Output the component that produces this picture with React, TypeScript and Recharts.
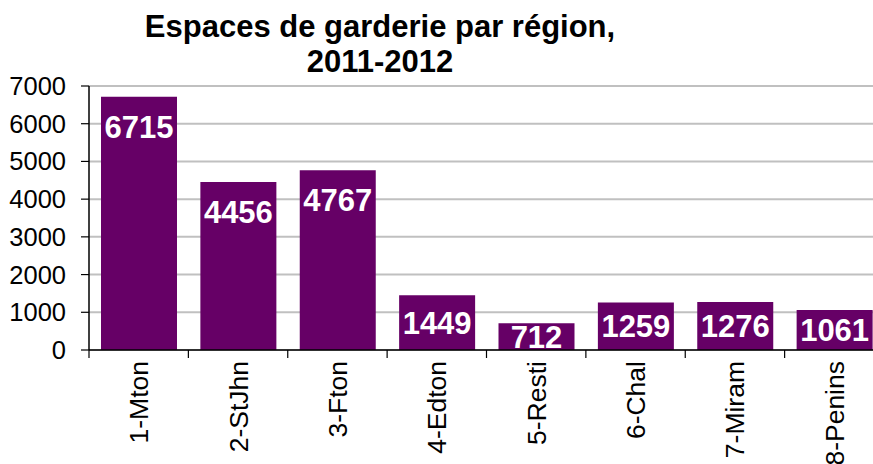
import React from "react";
import { BarChart, Bar, XAxis, YAxis, CartesianGrid } from "recharts";

const regions = ["1-Mton", "2-StJhn", "3-Fton", "4-Edton", "5-Resti", "6-Chal", "7-Miram", "8-Penins"];
const espaces = [6715, 4456, 4767, 1449, 712, 1259, 1276, 1061];
const yTicks = [0, 1000, 2000, 3000, 4000, 5000, 6000, 7000];

const data = regions.map((r, i) => ({ region: r, espaces: espaces[i] }));

const FONT = "Arial, 'Liberation Sans', sans-serif";
const CHART_W = 884;
const LEFT = 89;
const BAND = (CHART_W - LEFT) / regions.length;

function RegionTick(props: any) {
  const { x, y, payload } = props;
  const left = x - BAND / 2;
  return (
    <g>
      <line x1={left} y1={y - 8} x2={left} y2={y} stroke="#000" strokeWidth={1.2} />
      <text
        transform={`translate(${x},${y + 3}) rotate(-90)`}
        textAnchor="end"
        dy="0.36em"
        fontSize={26.5}
        fontFamily={FONT}
        fill="#000"
      >
        {payload.value}
      </text>
    </g>
  );
}

function ValueLabel(props: any) {
  const { x, y, width, height, value } = props;
  const off = Math.min(30, height / 2);
  return (
    <text
      x={x + width / 2}
      y={y + off}
      dy="0.36em"
      textAnchor="middle"
      fontSize={31}
      fontWeight="bold"
      fontFamily={FONT}
      fill="#fff"
    >
      {value}
    </text>
  );
}

export default function App() {
  return (
    <div
      style={{
        position: "absolute",
        left: 0,
        top: 0,
        width: 873,
        height: 464,
        overflow: "hidden",
        background: "#fff",
        fontFamily: FONT,
      }}
    >
      <div
        style={{
          position: "absolute",
          left: 130,
          width: 500,
          top: 9,
          textAlign: "center",
          fontSize: 31,
          fontWeight: "bold",
          lineHeight: "35px",
          color: "#000",
          whiteSpace: "nowrap",
        }}
      >
        Espaces de garderie par région,
        <br />
        2011-2012
      </div>
      <BarChart
        width={CHART_W}
        height={464}
        data={data}
        margin={{ top: 86, right: 0, bottom: 0, left: 0 }}
      >
        <CartesianGrid horizontal vertical={false} stroke="#c0c0c0" strokeWidth={2} />
        <XAxis
          dataKey="region"
          height={114}
          interval={0}
          tickLine={false}
          axisLine={{ stroke: "#000", strokeWidth: 1.5 }}
          tick={<RegionTick />}
        />
        <YAxis
          width={LEFT}
          domain={[0, 7000]}
          ticks={yTicks}
          interval={0}
          tickSize={8}
          tickMargin={15}
          axisLine={{ stroke: "#000", strokeWidth: 1.5 }}
          tickLine={{ stroke: "#000", strokeWidth: 1.2 }}
          tick={{ fontSize: 25.5, fill: "#000", fontFamily: FONT }}
        />
        <Bar
          dataKey="espaces"
          fill="#660066"
          barSize={76}
          isAnimationActive={false}
          label={<ValueLabel />}
        />
      </BarChart>
    </div>
  );
}
